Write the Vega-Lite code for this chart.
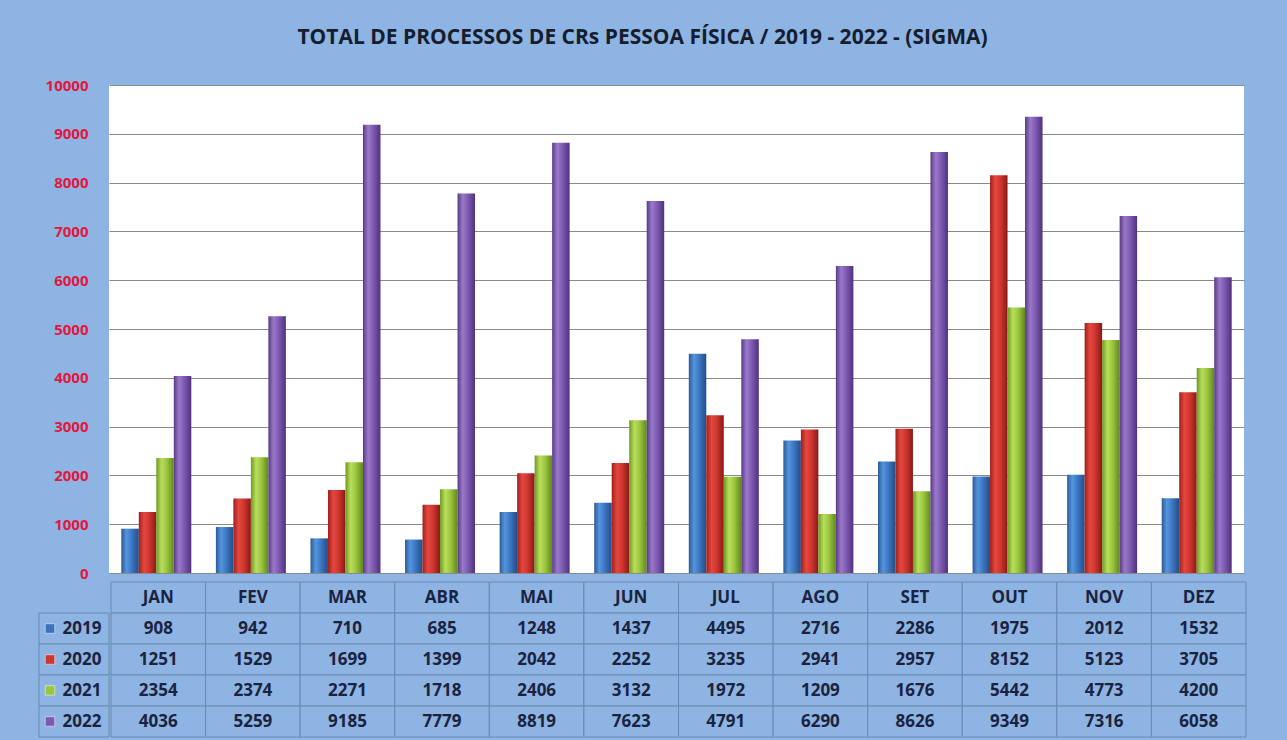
{
  "$schema": "https://vega.github.io/schema/vega-lite/v6.json",
  "background": "#8db4e2",
  "padding": {"left": 38, "top": 27, "right": 44, "bottom": 9},
  "title": {
    "text": "TOTAL DE PROCESSOS DE CRs PESSOA FÍSICA / 2019 - 2022 - (SIGMA)",
    "font": "Open Sans",
    "fontSize": 21,
    "fontWeight": "bold",
    "color": "#161d2e",
    "anchor": "middle",
    "offset": 30
  },
  "config": {
    "view": {"stroke": null},
    "concat": {"spacing": 0}
  },
  "datasets": {
    "d": [
      {"month": "JAN", "year": "2019", "value": 908},
      {"month": "FEV", "year": "2019", "value": 942},
      {"month": "MAR", "year": "2019", "value": 710},
      {"month": "ABR", "year": "2019", "value": 685},
      {"month": "MAI", "year": "2019", "value": 1248},
      {"month": "JUN", "year": "2019", "value": 1437},
      {"month": "JUL", "year": "2019", "value": 4495},
      {"month": "AGO", "year": "2019", "value": 2716},
      {"month": "SET", "year": "2019", "value": 2286},
      {"month": "OUT", "year": "2019", "value": 1975},
      {"month": "NOV", "year": "2019", "value": 2012},
      {"month": "DEZ", "year": "2019", "value": 1532},
      {"month": "JAN", "year": "2020", "value": 1251},
      {"month": "FEV", "year": "2020", "value": 1529},
      {"month": "MAR", "year": "2020", "value": 1699},
      {"month": "ABR", "year": "2020", "value": 1399},
      {"month": "MAI", "year": "2020", "value": 2042},
      {"month": "JUN", "year": "2020", "value": 2252},
      {"month": "JUL", "year": "2020", "value": 3235},
      {"month": "AGO", "year": "2020", "value": 2941},
      {"month": "SET", "year": "2020", "value": 2957},
      {"month": "OUT", "year": "2020", "value": 8152},
      {"month": "NOV", "year": "2020", "value": 5123},
      {"month": "DEZ", "year": "2020", "value": 3705},
      {"month": "JAN", "year": "2021", "value": 2354},
      {"month": "FEV", "year": "2021", "value": 2374},
      {"month": "MAR", "year": "2021", "value": 2271},
      {"month": "ABR", "year": "2021", "value": 1718},
      {"month": "MAI", "year": "2021", "value": 2406},
      {"month": "JUN", "year": "2021", "value": 3132},
      {"month": "JUL", "year": "2021", "value": 1972},
      {"month": "AGO", "year": "2021", "value": 1209},
      {"month": "SET", "year": "2021", "value": 1676},
      {"month": "OUT", "year": "2021", "value": 5442},
      {"month": "NOV", "year": "2021", "value": 4773},
      {"month": "DEZ", "year": "2021", "value": 4200},
      {"month": "JAN", "year": "2022", "value": 4036},
      {"month": "FEV", "year": "2022", "value": 5259},
      {"month": "MAR", "year": "2022", "value": 9185},
      {"month": "ABR", "year": "2022", "value": 7779},
      {"month": "MAI", "year": "2022", "value": 8819},
      {"month": "JUN", "year": "2022", "value": 7623},
      {"month": "JUL", "year": "2022", "value": 4791},
      {"month": "AGO", "year": "2022", "value": 6290},
      {"month": "SET", "year": "2022", "value": 8626},
      {"month": "OUT", "year": "2022", "value": 9349},
      {"month": "NOV", "year": "2022", "value": 7316},
      {"month": "DEZ", "year": "2022", "value": 6058}
    ]
  },
  "vconcat": [
    {
      "hconcat": [
        {
          "width": 70,
          "height": 488,
          "data": {"name": "d"},
          "mark": {"type": "point", "opacity": 0},
          "encoding": {
            "y": {
              "field": "value",
              "type": "quantitative",
              "scale": {"domain": [0, 10000], "nice": false},
              "axis": {
                "title": null,
                "values": [0, 1000, 2000, 3000, 4000, 5000, 6000, 7000, 8000, 9000, 10000],
                "format": "d",
                "domain": false,
                "ticks": false,
                "grid": false,
                "labelPadding": -49,
                "labelFont": "Open Sans",
                "labelFontSize": 15,
                "labelFontWeight": "bold",
                "labelColor": "#e3173e"
              }
            }
          }
        },
        {
          "width": 1135,
          "height": 488,
          "view": {"fill": "white", "stroke": null},
          "data": {"name": "d"},
          "mark": {"type": "bar", "stroke": null},
          "encoding": {
            "x": {
              "field": "month",
              "type": "nominal",
              "sort": ["JAN", "FEV", "MAR", "ABR", "MAI", "JUN", "JUL", "AGO", "SET", "OUT", "NOV", "DEZ"],
              "scale": {"paddingInner": 0.26, "paddingOuter": 0.13},
              "axis": null
            },
            "xOffset": {"field": "year", "type": "nominal", "scale": {"padding": 0}},
            "y": {
              "field": "value",
              "type": "quantitative",
              "scale": {"domain": [0, 10000], "nice": false},
              "axis": {
                "title": null,
                "values": [0, 1000, 2000, 3000, 4000, 5000, 6000, 7000, 8000, 9000, 10000],
                "domain": false,
                "ticks": false,
                "labels": false,
                "gridColor": "#8a8a8a",
                "gridWidth": 1,
                "gridOpacity": 1
              }
            },
            "fill": {
              "condition": [
                {"test": "datum.year == '2019'", "value": {"gradient": "linear", "x1": 0, "x2": 1, "y1": 0, "y2": 0, "stops": [{"offset": 0, "color": "#2b5b98"}, {"offset": 0.3, "color": "#5595de"}, {"offset": 0.6, "color": "#3c76c2"}, {"offset": 1, "color": "#244d86"}]}},
                {"test": "datum.year == '2020'", "value": {"gradient": "linear", "x1": 0, "x2": 1, "y1": 0, "y2": 0, "stops": [{"offset": 0, "color": "#a01f1b"}, {"offset": 0.3, "color": "#e4473f"}, {"offset": 0.6, "color": "#cf3630"}, {"offset": 1, "color": "#8a1916"}]}},
                {"test": "datum.year == '2021'", "value": {"gradient": "linear", "x1": 0, "x2": 1, "y1": 0, "y2": 0, "stops": [{"offset": 0, "color": "#6e9a22"}, {"offset": 0.3, "color": "#b8df5c"}, {"offset": 0.6, "color": "#9cc53f"}, {"offset": 1, "color": "#5f891b"}]}}
              ],
              "value": {"gradient": "linear", "x1": 0, "x2": 1, "y1": 0, "y2": 0, "stops": [{"offset": 0, "color": "#583a88"}, {"offset": 0.3, "color": "#9a79c9"}, {"offset": 0.6, "color": "#7e59b1"}, {"offset": 1, "color": "#4f317e"}]}
            }
          }
        }
      ]
    },
    {
      "hconcat": [
        {
          "width": 70,
          "height": 155,
          "data": {"name": "d"},
          "transform": [{"aggregate": [{"op": "count", "as": "n"}], "groupby": ["year"]}],
          "layer": [
            {
              "mark": {"type": "rect", "fill": "#8db4e2", "stroke": "#6a8ab3", "strokeWidth": 1},
              "encoding": {
                "x": {"datum": 0, "type": "quantitative", "scale": {"domain": [0, 70], "nice": false, "zero": false}, "axis": null},
                "x2": {"datum": 70},
                "y": {"field": "year", "type": "nominal", "scale": {"domain": ["M", "2019", "2020", "2021", "2022"], "paddingInner": 0, "paddingOuter": 0}, "axis": null}
              }
            },
            {
              "mark": {"type": "point", "shape": "square", "filled": true, "size": 90, "opacity": 1, "stroke": "#ffffff", "strokeWidth": 0.5},
              "encoding": {
                "x": {"datum": 11, "type": "quantitative"},
                "y": {"field": "year", "type": "nominal"},
                "color": {"field": "year", "type": "nominal", "scale": {"domain": ["2019", "2020", "2021", "2022"], "range": ["#3a72bd", "#cf3630", "#9cc53f", "#7e59b1"]}, "legend": null}
              }
            },
            {
              "mark": {"type": "text", "font": "Open Sans", "fontSize": 17, "fontWeight": "bold", "color": "#1b2340", "align": "center", "baseline": "middle"},
              "encoding": {
                "x": {"datum": 43, "type": "quantitative"},
                "y": {"field": "year", "type": "nominal"},
                "text": {"field": "year"}
              }
            }
          ]
        },
        {
          "width": 1135,
          "height": 155,
          "data": {"name": "d"},
          "layer": [
            {
              "transform": [{"aggregate": [{"op": "count", "as": "n"}], "groupby": ["month"]}],
              "layer": [
                {
                  "mark": {"type": "rect", "fill": "#8db4e2", "stroke": "#6a8ab3", "strokeWidth": 1},
                  "encoding": {
                    "x": {"field": "month", "type": "nominal", "sort": ["JAN", "FEV", "MAR", "ABR", "MAI", "JUN", "JUL", "AGO", "SET", "OUT", "NOV", "DEZ"], "scale": {"paddingInner": 0, "paddingOuter": 0}, "axis": null},
                    "y": {"datum": "M", "type": "nominal", "scale": {"domain": ["M", "2019", "2020", "2021", "2022"], "paddingInner": 0, "paddingOuter": 0}, "axis": null}
                  }
                },
                {
                  "mark": {"type": "text", "font": "Open Sans", "fontSize": 17, "fontWeight": "bold", "color": "#1b2340", "baseline": "middle"},
                  "encoding": {
                    "x": {"field": "month", "type": "nominal", "sort": ["JAN", "FEV", "MAR", "ABR", "MAI", "JUN", "JUL", "AGO", "SET", "OUT", "NOV", "DEZ"]},
                    "y": {"datum": "M", "type": "nominal"},
                    "text": {"field": "month"}
                  }
                }
              ]
            },
            {
              "mark": {"type": "rect", "fill": "#8db4e2", "stroke": "#6a8ab3", "strokeWidth": 1},
              "encoding": {
                "x": {"field": "month", "type": "nominal", "sort": ["JAN", "FEV", "MAR", "ABR", "MAI", "JUN", "JUL", "AGO", "SET", "OUT", "NOV", "DEZ"]},
                "y": {"field": "year", "type": "nominal"}
              }
            },
            {
              "mark": {"type": "text", "font": "Open Sans", "fontSize": 17, "fontWeight": "bold", "color": "#1b2340", "baseline": "middle"},
              "encoding": {
                "x": {"field": "month", "type": "nominal", "sort": ["JAN", "FEV", "MAR", "ABR", "MAI", "JUN", "JUL", "AGO", "SET", "OUT", "NOV", "DEZ"]},
                "y": {"field": "year", "type": "nominal"},
                "text": {"field": "value", "type": "quantitative", "format": "d"}
              }
            }
          ]
        }
      ]
    }
  ]
}
